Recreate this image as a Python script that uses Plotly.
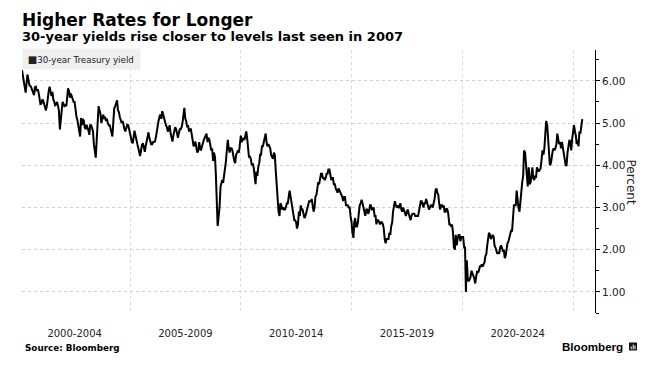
import plotly.graph_objects as go
from datetime import date

# ---------------- data (semi-monthly readings of the 30-year Treasury yield, %) ----------------
first_date = "2000-02-15"   # first reading; then the 1st and 15th of every month

yields_2000_2004 = [
    # 2000 (from Feb 15)
    6.25, 6.10, 5.98, 5.80, 5.72, 5.95, 6.15, 6.02, 5.90, 5.88, 5.85, 5.78, 5.70, 5.66, 5.85, 5.86,
    5.76, 5.80, 5.72, 5.55, 5.45,
    # 2001
    5.46, 5.56, 5.52, 5.45, 5.36, 5.30, 5.42, 5.65, 5.76, 5.86, 5.75, 5.64, 5.74, 5.56, 5.50, 5.42,
    5.44, 5.50, 5.40, 5.30, 4.85, 5.12, 5.26, 5.50,
    # 2002
    5.45, 5.40, 5.42, 5.40, 5.60, 5.82, 5.76, 5.60, 5.70, 5.64, 5.56, 5.50, 5.50, 5.30, 5.15, 5.08,
    4.95, 4.80, 4.68, 5.12, 4.95, 5.10, 5.05, 4.90,
    # 2003
    4.85, 4.96, 4.90, 4.82, 4.72, 4.95, 4.95, 4.88, 4.80, 4.50, 4.25, 4.18, 4.60, 5.00, 5.40, 5.30,
    5.22, 5.00, 5.12, 5.20, 5.10, 5.15, 5.05, 5.10,
    # 2004
    5.00, 4.95, 4.95, 4.88, 4.75, 4.68, 5.05, 5.35, 5.40, 5.46, 5.54, 5.30, 5.26, 5.15, 5.05, 5.00,
    5.05, 4.90, 4.85, 4.80, 4.92, 4.96, 4.95, 4.85,
]
yields_2005_2009 = [
    # 2005
    4.80, 4.65, 4.55, 4.52, 4.72, 4.82, 4.70, 4.55, 4.50, 4.42, 4.30, 4.22, 4.35, 4.48, 4.52, 4.40,
    4.32, 4.45, 4.60, 4.72, 4.78, 4.65, 4.55, 4.50,
    # 2006
    4.50, 4.55, 4.55, 4.56, 4.65, 4.80, 4.90, 5.05, 5.15, 5.20, 5.10, 5.28, 5.20, 5.10, 5.00, 4.95,
    4.90, 4.80, 4.85, 4.95, 4.75, 4.65, 4.56, 4.70,
    # 2007
    4.80, 4.90, 4.85, 4.70, 4.65, 4.75, 4.85, 4.85, 4.90, 5.00, 5.25, 5.36, 5.10, 5.05, 4.90, 4.95,
    4.80, 4.85, 4.85, 4.75, 4.60, 4.45, 4.50, 4.56,
    # 2008
    4.40, 4.30, 4.35, 4.55, 4.40, 4.35, 4.45, 4.55, 4.60, 4.65, 4.72, 4.75, 4.55, 4.65, 4.60, 4.45,
    4.35, 4.40, 4.10, 4.30, 4.20, 3.80, 3.15, 2.56,
    # 2009
    2.80, 3.00, 3.50, 3.60, 3.65, 3.58, 3.75, 3.82, 4.10, 4.35, 4.60, 4.40, 4.30, 4.40, 4.40, 4.35,
    4.20, 4.10, 4.05, 4.25, 4.30, 4.35, 4.30, 4.60,
]
yields_2010_2014 = [
    # 2010
    4.70, 4.55, 4.60, 4.65, 4.60, 4.70, 4.80, 4.65, 4.40, 4.20, 4.20, 4.15, 4.00, 4.05, 3.95, 3.80,
    3.55, 3.85, 3.75, 3.95, 4.05, 4.25, 4.25, 4.45,
    # 2011
    4.45, 4.55, 4.65, 4.75, 4.55, 4.45, 4.50, 4.45, 4.40, 4.25, 4.20, 4.15, 4.30, 4.25, 3.85, 3.50,
    3.35, 2.90, 2.80, 3.10, 3.05, 2.95, 3.00, 2.95,
    # 2012
    2.95, 3.00, 3.10, 3.10, 3.25, 3.40, 3.25, 3.10, 3.05, 2.90, 2.70, 2.70, 2.65, 2.50, 2.60, 2.90,
    2.80, 3.05, 2.95, 2.95, 2.85, 2.75, 2.80, 2.90,
    # 2013
    2.95, 3.05, 3.15, 3.15, 3.15, 3.20, 3.05, 2.90, 3.00, 3.25, 3.30, 3.50, 3.60, 3.55, 3.65, 3.80,
    3.80, 3.70, 3.70, 3.65, 3.70, 3.80, 3.80, 3.90,
    # 2014
    3.90, 3.75, 3.65, 3.70, 3.70, 3.55, 3.55, 3.45, 3.40, 3.35, 3.45, 3.40, 3.35, 3.30, 3.25, 3.15,
    3.25, 3.25, 3.05, 3.05, 3.05, 3.00, 3.00, 2.80,
]
yields_2015_2019 = [
    # 2015
    2.65, 2.40, 2.28, 2.65, 2.75, 2.55, 2.55, 2.65, 2.95, 3.05, 3.10, 3.18, 3.10, 3.00, 2.90, 2.80,
    2.95, 2.95, 2.85, 2.90, 3.05, 3.05, 2.95, 2.95,
    # 2016
    3.00, 2.80, 2.80, 2.60, 2.70, 2.70, 2.65, 2.60, 2.65, 2.65, 2.60, 2.50, 2.25, 2.15, 2.25, 2.25,
    2.25, 2.40, 2.35, 2.55, 2.65, 2.90, 3.05, 3.15,
    # 2017
    3.05, 3.00, 3.05, 3.00, 3.00, 3.10, 2.95, 2.90, 3.00, 2.95, 2.85, 2.80, 2.90, 2.95, 2.85, 2.80,
    2.70, 2.80, 2.85, 2.85, 2.85, 2.80, 2.80, 2.80,
    # 2018
    2.80, 2.90, 3.00, 3.15, 3.15, 3.05, 3.00, 3.10, 3.10, 3.20, 3.10, 3.05, 2.95, 3.00, 3.05, 3.05,
    3.00, 3.10, 3.20, 3.40, 3.45, 3.35, 3.30, 3.10,
    # 2019
    2.95, 3.05, 3.05, 3.00, 3.05, 2.90, 2.90, 2.98, 2.95, 2.85, 2.60, 2.60, 2.55, 2.60, 2.40, 2.05,
    2.00, 2.35, 2.10, 2.25, 2.35, 2.35, 2.20, 2.30,
]
yields_2020_2024 = [
    # 2020
    2.30, 2.30, 2.05, 2.05, 1.00, 1.75, 1.30, 1.25, 1.30, 1.35, 1.50, 1.45, 1.40, 1.33, 1.20, 1.35,
    1.50, 1.45, 1.50, 1.60, 1.60, 1.65, 1.60, 1.65,
    # 2021
    1.70, 1.85, 1.90, 2.10, 2.25, 2.40, 2.35, 2.25, 2.30, 2.35, 2.30, 2.10, 2.05, 1.95, 1.90, 1.95,
    1.90, 2.05, 2.10, 2.05, 1.95, 2.00, 1.80, 1.85,
    # 2022
    2.05, 2.15, 2.20, 2.30, 2.35, 2.45, 2.45, 2.90, 3.05, 3.05, 3.05, 3.40, 3.15, 3.00, 2.90, 3.15,
    3.25, 3.60, 3.75, 4.35, 4.30, 3.95, 3.60, 3.50,
    # 2023
    3.95, 3.55, 3.60, 3.85, 3.95, 3.70, 3.65, 3.75, 3.70, 3.95, 3.90, 3.85, 3.90, 3.92, 4.15, 4.35,
    4.25, 4.40, 4.75, 5.05, 4.95, 4.65, 4.35, 4.00,
    # 2024
    4.05, 4.25, 4.35, 4.40, 4.35, 4.40, 4.50, 4.75, 4.65, 4.50, 4.55, 4.40, 4.55, 4.45, 4.25, 4.15,
    4.00, 4.00, 4.30, 4.40, 4.60, 4.55, 4.35, 4.60,
]
yields_2025 = [4.80, 4.95, 4.80, 4.70, 4.50, 4.60, 4.45, 4.80, 4.75, 4.95, 5.09]

period_labels = ["2000-2004", "2005-2009", "2010-2014", "2015-2019", "2020-2024"]
period_bounds = ["2000-01-01", "2005-01-01", "2010-01-01", "2015-01-01", "2020-01-01", "2025-01-01"]
y_ticks = [1, 2, 3, 4, 5, 6]
series_name = "30-year Treasury yield"

# ---------------- build series ----------------
values = (yields_2000_2004 + yields_2005_2009 + yields_2010_2014
          + yields_2015_2019 + yields_2020_2024 + yields_2025)

d0 = date.fromisoformat(first_date)
dates = [d0]
y, m = d0.year, d0.month + 1
while len(dates) < len(values):
    if m > 12:
        y, m = y + 1, 1
    dates.append(date(y, m, 1))
    if len(dates) < len(values):
        dates.append(date(y, m, 15))
    m += 1

bounds = [date.fromisoformat(b) for b in period_bounds]
mids = [bounds[i] + (bounds[i + 1] - bounds[i]) / 2 for i in range(len(period_labels))]

# ---------------- layout helpers (pixel -> paper) ----------------
PL, PR, PT, PB = 22, 595, 50, 313
W, H = 657, 366


def px(p):
    return (p - PL) / (PR - PL)


def py(p):
    return (PB - p) / (PB - PT)


FONT = "DejaVu Sans"
TXT = "#222222"

fig = go.Figure()
fig.add_trace(go.Scatter(
    x=dates, y=values, mode="lines", name=series_name,
    line=dict(color="#000000", width=2),
    showlegend=False, hoverinfo="x+y",
))

fig.update_layout(
    width=W, height=H,
    margin=dict(l=PL, r=W - PR, t=PT, b=H - PB, pad=0),
    paper_bgcolor="white", plot_bgcolor="white",
    showlegend=False,
    font=dict(family=FONT, size=10, color=TXT),
    xaxis=dict(
        type="date",
        range=["2000-02-15", "2025-12-28"],
        tickvals=mids, ticktext=period_labels,
        ticks="", showgrid=False, showline=False, zeroline=False,
        tickfont=dict(family=FONT, size=10, color=TXT),
        ticklabelstandoff=13,
        minor=dict(tickvals=bounds[1:], showgrid=True, griddash="dot",
                   gridcolor="#d9d9d9", gridwidth=1, ticks=""),
    ),
    yaxis=dict(
        side="right",
        range=[0.5, 6.73],
        tickvals=y_ticks, tickformat=".2f",
        ticks="outside", ticklen=4, tickcolor="#000000", tickwidth=1,
        showline=True, linecolor="#000000", linewidth=1,
        showgrid=True, griddash="dot", gridcolor="#d0d0d0", gridwidth=1,
        zeroline=False,
        tickfont=dict(family=FONT, size=10.5, color=TXT),
        minor=dict(dtick=0.5, tick0=0.5, ticks="outside", ticklen=2.5,
                   tickcolor="#000000", showgrid=False),
    ),
)

annotations = [
    dict(text="<b>Higher Rates for Longer</b>", x=px(21), y=py(20.5),
         font=dict(family=FONT, size=17, color="#000000")),
    dict(text="<b>30-year yields rise closer to levels last seen in 2007</b>", x=px(21), y=py(37),
         font=dict(family=FONT, size=13, color="#000000")),
    dict(text="<b>Source: Bloomberg</b>", x=px(24), y=py(348),
         font=dict(family=FONT, size=8.8, color="#000000")),
    dict(text="<b>Bloomberg</b>", x=px(561), y=py(346),
         font=dict(family="Liberation Sans", size=11.6, color="#000000")),
]
for a in annotations:
    a.update(xref="paper", yref="paper", xanchor="left", yanchor="middle",
             showarrow=False, borderpad=0, align="left")
    fig.add_annotation(**a)

# legend box
fig.add_annotation(
    text="\u00a0<span style='font-size:10px'>\u25a0</span>" + series_name,
    xref="paper", yref="paper", x=px(22), y=py(48), xanchor="left", yanchor="top",
    showarrow=False, bgcolor="#efefef", borderpad=2, width=113, height=16, align="left",
    font=dict(family=FONT, size=8.7, color=TXT),
)
# right-side axis title
fig.add_annotation(
    text="Percent", xref="paper", yref="paper", x=px(631), y=0.5,
    xanchor="center", yanchor="middle", textangle=90, showarrow=False,
    font=dict(family=FONT, size=12, color=TXT),
)

# Bloomberg icon
fig.add_shape(type="rect", xref="paper", yref="paper",
              x0=px(629), x1=px(637), y0=py(350.5), y1=py(342.5),
              fillcolor="#111111", line=dict(width=0))
for bx, top in [(631.2, 346.5), (633.2, 344.5), (635.0, 345.5)]:
    fig.add_shape(type="line", xref="paper", yref="paper",
                  x0=px(bx), x1=px(bx), y0=py(349.3), y1=py(top),
                  line=dict(color="white", width=1))

fig.write_html("out.html", config={"displayModeBar": False},
               post_script="document.body.style.margin='0';")
